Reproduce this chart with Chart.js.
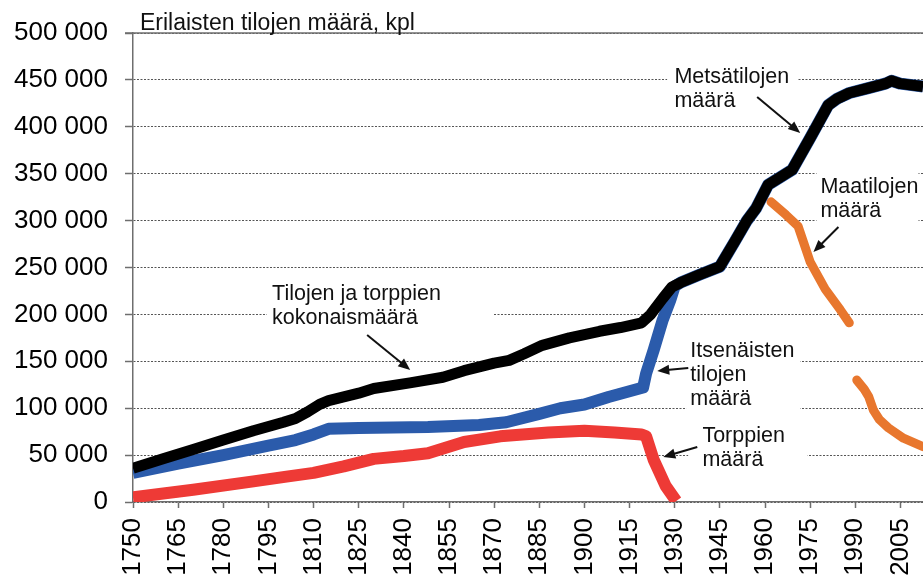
<!DOCTYPE html>
<html>
<head>
<meta charset="utf-8">
<script src="https://cdn.jsdelivr.net/npm/chart.js@4.4.1/dist/chart.umd.min.js"></script>
<style>
  html, body { margin: 0; padding: 0; background: #fff; }
  canvas { display: block; }
</style>
</head>
<body>
<canvas id="chart" width="923" height="581"></canvas>
<script>
// ── Data ──────────────────────────────────────────────────────────────────

const xTicks = [1750, 1765, 1780, 1795, 1810, 1825, 1840, 1855, 1870, 1885, 1900, 1915, 1930, 1945, 1960, 1975, 1990, 2005];

// Tilojen ja torppien kokonaismäärä -> after 1930 metsätilojen määrä (black)
const totalYears = [1750, 1760, 1770, 1780, 1790, 1800, 1804, 1808, 1812, 1815, 1820, 1825, 1830, 1842, 1853, 1860, 1870, 1875, 1880, 1886, 1895, 1905, 1912, 1919, 1922, 1926, 1929, 1932, 1938, 1945, 1950, 1954, 1957, 1961, 1965, 1969, 1975, 1981, 1984, 1988, 1994, 2000, 2002, 2005, 2012.5];
const totalValues = [36000, 46000, 56000, 66000, 76000, 85000, 89000, 96000, 104000, 108000, 112000, 116000, 121000, 127000, 133000, 140000, 148000, 151000, 158000, 167000, 175000, 182000, 186000, 191000, 200000, 217000, 229000, 234000, 242000, 251000, 278000, 300000, 313000, 338000, 346000, 354000, 388000, 423000, 430000, 436000, 441000, 446000, 449000, 446000, 443000];

// Itsenäisten tilojen määrä (blue)
const farmYears = [1750, 1765, 1780, 1795, 1804, 1810, 1815, 1825, 1848, 1865, 1874, 1885, 1892, 1900, 1908, 1919.5, 1920.5, 1923, 1926, 1928.5, 1930, 1932, 1938, 1945, 1950, 1954, 1957, 1961, 1965, 1969, 1975, 1981, 1984, 1988, 1994, 2000, 2002, 2005, 2012.5];
const farmValues = [31000, 41000, 50000, 60000, 66000, 72000, 78000, 79000, 80000, 82000, 85000, 94000, 100000, 104000, 112000, 122000, 137000, 162000, 194000, 215000, 230000, 234000, 242000, 251000, 278000, 300000, 313000, 338000, 346000, 354000, 388000, 423000, 430000, 436000, 441000, 446000, 449000, 446000, 443000];

// Torppien määrä (red)
const croftYears = [1750, 1770, 1790, 1801, 1810, 1820, 1830, 1840, 1848, 1860, 1872, 1888, 1900, 1910, 1919, 1920.5, 1923, 1927, 1930.5];
const croftValues = [5000, 13000, 22000, 27000, 31000, 38000, 46000, 49000, 52000, 64000, 70000, 74000, 76000, 74000, 72000, 70000, 45000, 17000, 1000];

// Maatilojen määrä (orange), break around 1989
const agriYears = [1962, 1967, 1971, 1975, 1980, 1985, 1988, 1989, 1990.5, 1993, 1994.5, 1996, 1998, 2001, 2006, 2012.5];
const agriValues = [320000, 306000, 294000, 256000, 227000, 205000, 191000, null, 130000, 120000, 112000, 98000, 88000, 79000, 68000, 59000];

// ── Annotations (data coordinates) ───────────────────────────────────────

const notes = [
    { lines: ['Metsätilojen', 'määrä'], x: 1929.9, y: 453000, box: [1927.5, 1970.7, 470000, 414000], arrow: [1957.4, 431800, 1971.7, 393400] },
    { lines: ['Tilojen ja torppien', 'kokonaismäärä'], x: 1796.2, y: 221800, box: [1794.5, 1869.7, 236000, 183000], arrow: [1827.8, 178000, 1842.1, 140700] },
    { lines: ['Itsenäisten', 'tilojen', 'määrä'], x: 1935.2, y: 161000, box: [1933.8, 1971.7, 175000, 96000], arrow: [1934.5, 142900, 1924.2, 139700] },
    { lines: ['Torppien', 'määrä'], x: 1939.2, y: 70400, box: [1934.5, 1974.1, 84000, 29000], arrow: [1937.5, 58600, 1926.2, 48000] },
    { lines: ['Maatilojen', 'määrä'], x: 1978.4, y: 335800, box: [1977.1, 2011, 359000, 288000], arrow: [1984.4, 293200, 1976.1, 266500] },
];

const FONT = "'Liberation Sans', Arial, sans-serif";

function toPoints(xs, vs) {
    return xs.map((x, i) => ({ x: x, y: vs[i] }));
}

function fmtThousands(v) {
    return String(v).replace(/\B(?=(\d{3})+(?!\d))/g, ' ');
}

function drawArrow(ctx, x1, y1, x2, y2) {
    const a = Math.atan2(y2 - y1, x2 - x1);
    const h = 12, w = 5;
    ctx.beginPath();
    ctx.moveTo(x1, y1);
    ctx.lineTo(x2 - h * 0.8 * Math.cos(a), y2 - h * 0.8 * Math.sin(a));
    ctx.stroke();
    ctx.beginPath();
    ctx.moveTo(x2, y2);
    ctx.lineTo(x2 - h * Math.cos(a) + w * Math.sin(a), y2 - h * Math.sin(a) - w * Math.cos(a));
    ctx.lineTo(x2 - h * Math.cos(a) - w * Math.sin(a), y2 - h * Math.sin(a) + w * Math.cos(a));
    ctx.closePath();
    ctx.fill();
}

const notesPlugin = {
    id: 'notes',
    beforeDatasetsDraw(chart) {
        const { ctx, chartArea, scales: { x, y } } = chart;
        ctx.save();
        // label boxes hide the grid lines
        ctx.fillStyle = '#fff';
        notes.forEach((n) => {
            const x0 = x.getPixelForValue(n.box[0]), x1 = x.getPixelForValue(n.box[1]);
            const y0 = y.getPixelForValue(n.box[2]), y1 = y.getPixelForValue(n.box[3]);
            ctx.fillRect(x0, y0, x1 - x0, y1 - y0);
        });
        // solid frame line at the top
        ctx.strokeStyle = '#6e6e6e';
        ctx.lineWidth = 1.5;
        ctx.beginPath();
        ctx.moveTo(chartArea.left - 8, chartArea.top);
        ctx.lineTo(chartArea.right, chartArea.top);
        ctx.stroke();
        ctx.restore();
    },
    afterDatasetsDraw(chart) {
        const { ctx, scales: { x, y } } = chart;
        ctx.save();
        ctx.fillStyle = '#111';
        ctx.strokeStyle = '#111';
        ctx.lineWidth = 2;
        ctx.font = '21.5px ' + FONT;
        ctx.textAlign = 'left';
        ctx.textBaseline = 'middle';
        notes.forEach((n) => {
            const px = x.getPixelForValue(n.x), py = y.getPixelForValue(n.y);
            n.lines.forEach((t, i) => ctx.fillText(t, px, py + i * 24));
            drawArrow(ctx,
                x.getPixelForValue(n.arrow[0]), y.getPixelForValue(n.arrow[1]),
                x.getPixelForValue(n.arrow[2]), y.getPixelForValue(n.arrow[3]));
        });
        // title
        ctx.font = '23px ' + FONT;
        ctx.textBaseline = 'alphabetic';
        ctx.fillText('Erilaisten tilojen määrä, kpl', 140, 30);
        ctx.restore();
    },
};

new Chart(document.getElementById('chart'), {
    type: 'line',
    data: {
        datasets: [
            {
                label: 'Tilojen ja torppien kokonaismäärä / Metsätilojen määrä',
                data: toPoints(totalYears, totalValues),
                borderColor: '#000',
                borderWidth: 11,
            },
            {
                label: 'Itsenäisten tilojen määrä',
                data: toPoints(farmYears, farmValues),
                borderColor: '#2b5bab',
                borderWidth: 12,
            },
            {
                label: 'Torppien määrä',
                data: toPoints(croftYears, croftValues),
                borderColor: '#ee3a36',
                borderWidth: 12,
            },
            {
                label: 'Maatilojen määrä',
                data: toPoints(agriYears, agriValues),
                borderColor: '#e8772e',
                borderWidth: 9,
                borderCapStyle: 'round',
            },
        ],
    },
    options: {
        responsive: false,
        animation: false,
        devicePixelRatio: 1,
        spanGaps: false,
        layout: { padding: { top: 33, right: 0, left: 0, bottom: 0 } },
        elements: {
            point: { radius: 0, hoverRadius: 0 },
            line: { tension: 0, borderJoinStyle: 'round', fill: false },
        },
        plugins: {
            legend: { display: false },
            tooltip: { enabled: false },
        },
        scales: {
            x: {
                type: 'linear',
                min: 1750,
                max: 2012.5,
                afterBuildTicks: (axis) => { axis.ticks = xTicks.map((v) => ({ value: v })); },
                afterFit: (axis) => { axis.height = 79; axis.paddingLeft = 0; axis.paddingRight = 0; },
                ticks: {
                    autoSkip: false,
                    minRotation: 90,
                    maxRotation: 90,
                    padding: 10,
                    color: '#000',
                    font: { family: FONT, size: 26 },
                    callback: (v) => String(v),
                },
                grid: { drawOnChartArea: false, drawTicks: true, tickLength: 6, tickColor: '#6e6e6e', tickWidth: 1.5 },
                border: { color: '#6e6e6e', width: 1.5 },
            },
            y: {
                min: 0,
                max: 500000,
                afterFit: (axis) => { axis.width = 133; axis.paddingTop = 0; axis.paddingBottom = 0; },
                ticks: {
                    stepSize: 50000,
                    padding: 17,
                    color: '#000',
                    font: { family: FONT, size: 26 },
                    callback: (v) => fmtThousands(v),
                },
                grid: { color: '#555', lineWidth: 1, tickLength: 8, tickColor: '#6e6e6e', tickWidth: 1.5, tickBorderDash: [] },
                border: { color: '#6e6e6e', width: 1.5, dash: [2, 1.5] },
            },
        },
    },
    plugins: [notesPlugin],
});
</script>
</body>
</html>
